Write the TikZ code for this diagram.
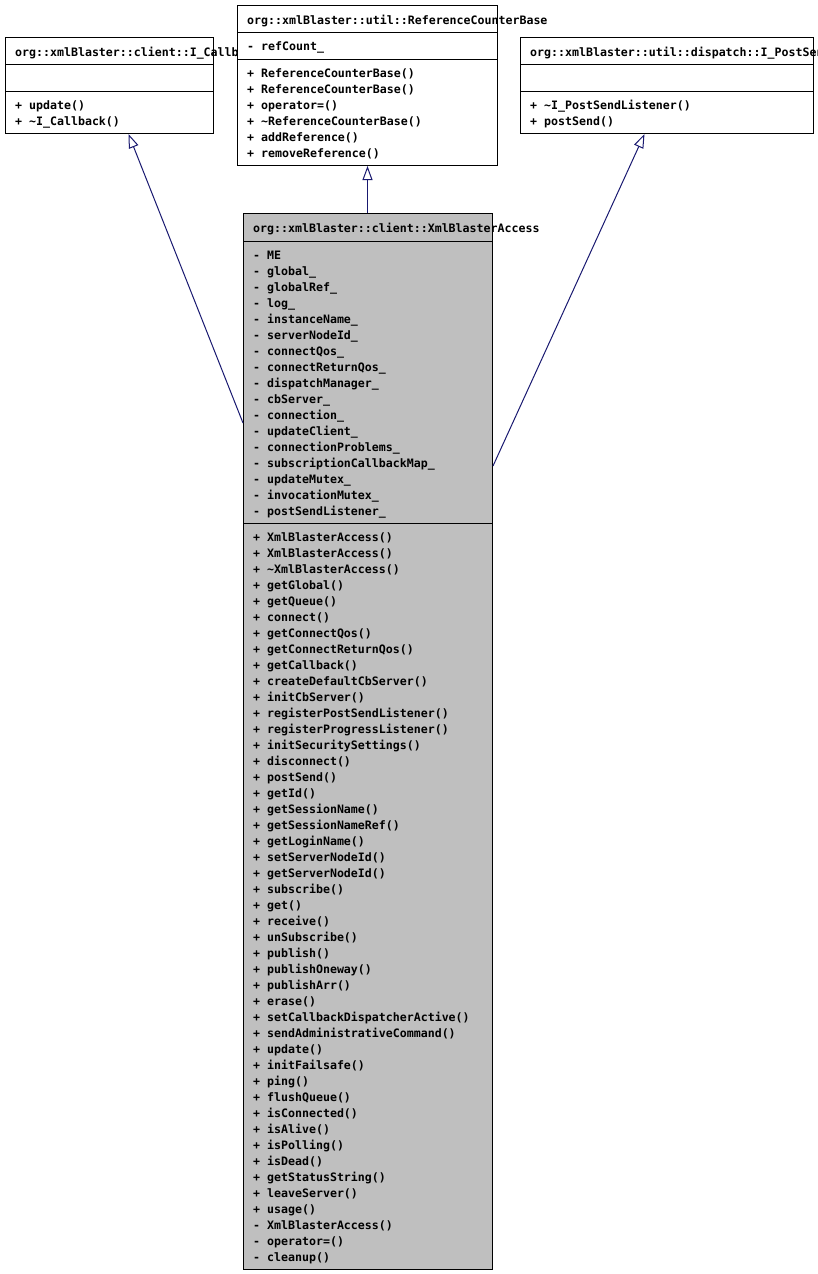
\documentclass[tikz,border=0pt]{standalone}
\usepackage{fontspec}
\setmonofont{DejaVu Sans Mono}
\usetikzlibrary{arrows.meta}
\definecolor{edgeblue}{HTML}{191970}
\definecolor{classgray}{HTML}{BFBFBF}
\newcommand{\umlfont}{\ttfamily\bfseries\fontsize{11.6}{16}\selectfont}
\newcommand{\tld}{\textasciitilde}
\tikzset{
  classbox/.style={draw=black, line width=1pt, fill=white, inner sep=0pt, anchor=north west},
  graybox/.style={classbox, fill=classgray},
  divider/.style={draw=black, line width=1pt},
  member/.style={anchor=base west, inner sep=0pt, font=\umlfont},
  inherit/.style={draw=edgeblue, line width=1pt, -{Triangle[length=14pt,width=10pt,fill=white]}}
}
\begin{document}
\begin{tikzpicture}[x=1pt,y=-1pt]
\useasboundingbox (0,0) rectangle (818,1274);

% I_Callback
\node[classbox, minimum width=208pt, minimum height=96pt] (cb) at (5,37) {};
\draw[divider] (5,64) -- (213,64);
\draw[divider] (5,91) -- (213,91);
\node[member] (cbt) at (15,56.5) {org::xmlBlaster::client::I\_Callback};
\node[member] (cbm1) at (15,109.5) {+ update()};
\node[member] (cbm2) at (15,125.5) {+ \tld{}I\_Callback()};

% ReferenceCounterBase
\node[classbox, minimum width=260pt, minimum height=160pt] (rcb) at (237,5) {};
\draw[divider] (237,32) -- (497,32);
\draw[divider] (237,59) -- (497,59);
\node[member] (rcbt) at (247,24.5) {org::xmlBlaster::util::ReferenceCounterBase};
\node[member] (rcba1) at (247,50.5) {- refCount\_};
\foreach \t [count=\i] in {{+ ReferenceCounterBase()},{+ ReferenceCounterBase()},{+ operator=()},{+ \tld{}ReferenceCounterBase()},{+ addReference()},{+ removeReference()}}
  \node[member] (rcbm\i) at (247,{77.5+16*(\i-1)}) {\t};

% I_PostSendListener
\node[classbox, minimum width=293pt, minimum height=96pt] (ps) at (520,37) {};
\draw[divider] (520,64) -- (813,64);
\draw[divider] (520,91) -- (813,91);
\node[member] (pst) at (530,56.5) {org::xmlBlaster::util::dispatch::I\_PostSendListener};
\node[member] (psm1) at (530,109.5) {+ \tld{}I\_PostSendListener()};
\node[member] (psm2) at (530,125.5) {+ postSend()};

% XmlBlasterAccess
\node[graybox, minimum width=249pt, minimum height=1056pt] (xba) at (243,213) {};
\draw[divider] (243,241) -- (492,241);
\draw[divider] (243,523) -- (492,523);
\node[member] (xbat) at (253,232.5) {org::xmlBlaster::client::XmlBlasterAccess};
\foreach \t [count=\i] in {ME,global\_,globalRef\_,log\_,instanceName\_,serverNodeId\_,connectQos\_,connectReturnQos\_,dispatchManager\_,cbServer\_,connection\_,updateClient\_,connectionProblems\_,subscriptionCallbackMap\_,updateMutex\_,invocationMutex\_,postSendListener\_}
  \node[member] (xbaa\i) at (253,{259.5+16*(\i-1)}) {- \t};
\foreach \t [count=\i] in {{+ XmlBlasterAccess()},{+ XmlBlasterAccess()},{+ \tld{}XmlBlasterAccess()},{+ getGlobal()},{+ getQueue()},{+ connect()},{+ getConnectQos()},{+ getConnectReturnQos()},{+ getCallback()},{+ createDefaultCbServer()},{+ initCbServer()},{+ registerPostSendListener()},{+ registerProgressListener()},{+ initSecuritySettings()},{+ disconnect()},{+ postSend()},{+ getId()},{+ getSessionName()},{+ getSessionNameRef()},{+ getLoginName()},{+ setServerNodeId()},{+ getServerNodeId()},{+ subscribe()},{+ get()},{+ receive()},{+ unSubscribe()},{+ publish()},{+ publishOneway()},{+ publishArr()},{+ erase()},{+ setCallbackDispatcherActive()},{+ sendAdministrativeCommand()},{+ update()},{+ initFailsafe()},{+ ping()},{+ flushQueue()},{+ isConnected()},{+ isAlive()},{+ isPolling()},{+ isDead()},{+ getStatusString()},{+ leaveServer()},{+ usage()},{- XmlBlasterAccess()},{- operator=()},{- cleanup()}}
  \node[member] (xbam\i) at (253,{541.5+16*(\i-1)}) {\t};

% inheritance connectors
\draw[inherit] (xba.north -| rcb.south) -- (rcb.south);
\draw[inherit] ([yshift=-210pt]xba.north west) -- ([xshift=19pt]cb.south);
\draw[inherit] ([yshift=-253pt]xba.north east) -- ([xshift=-22.5pt]ps.south);
\end{tikzpicture}
\end{document}
